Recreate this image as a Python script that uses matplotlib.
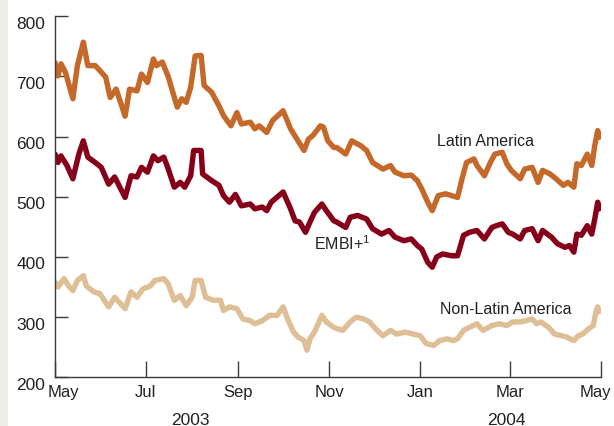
import numpy as np
import matplotlib
matplotlib.use("Agg")
import matplotlib.pyplot as plt
from matplotlib.transforms import ScaledTranslation, blended_transform_factory
from matplotlib.patches import Rectangle

plt.rcParams['font.family'] = ['Liberation Sans', 'DejaVu Sans']

START = np.datetime64('2003-05-01')

# Latin America (days since 2003-05-01, basis points)
la_days = [0, 2, 4, 7, 12, 15, 19, 22, 27, 30, 34, 37, 41, 47, 50, 55, 58, 62, 66, 68,
           72, 76, 82, 85, 88, 91, 94, 98, 100, 105, 110, 113, 118, 122, 125, 131, 134,
           137, 142, 146, 153, 158, 163, 167, 170, 173, 178, 180, 183, 187, 189, 195,
           199, 205, 209, 213, 220, 225, 228, 234, 239, 243, 246, 250, 253, 257, 262,
           266, 270, 273, 276, 281, 283, 288, 292, 295, 300, 303, 306, 312, 315, 320,
           324, 327, 332, 336, 341, 344, 348, 350, 353, 357, 360, 362, 364, 365]
la_vals = [723, 701, 721, 707, 663, 718, 757, 718, 718, 710, 699, 665, 679, 634, 679,
           676, 704, 690, 729, 718, 724, 699, 649, 663, 657, 682, 734, 735, 685, 674,
           651, 635, 618, 640, 621, 624, 613, 618, 607, 627, 643, 613, 593, 577, 596,
           602, 618, 616, 593, 582, 582, 571, 593, 585, 577, 557, 546, 552, 541, 535,
           536, 527, 513, 491, 477, 502, 505, 502, 499, 530, 557, 563, 552, 535, 557,
           571, 574, 555, 544, 530, 546, 549, 524, 544, 538, 530, 519, 524, 516, 555,
           552, 571, 552, 585, 610, 599]

# EMBI+
embi_days = [0, 2, 4, 8, 12, 16, 19, 22, 27, 31, 36, 40, 47, 51, 55, 58, 62, 66, 69, 73,
             76, 80, 84, 87, 91, 93, 98, 99, 105, 110, 113, 117, 121, 125, 131, 134, 139,
             142, 145, 153, 158, 161, 164, 168, 171, 174, 179, 182, 187, 189, 195, 198,
             203, 209, 213, 219, 224, 228, 234, 239, 243, 246, 250, 253, 256, 260, 266,
             270, 274, 278, 283, 288, 293, 296, 300, 304, 307, 312, 315, 320, 324, 327,
             333, 337, 342, 345, 348, 350, 353, 357, 360, 362, 364, 365]
embi_vals = [571, 557, 568, 552, 530, 571, 593, 566, 557, 549, 521, 533, 499, 535, 533,
             549, 541, 568, 560, 566, 546, 516, 524, 516, 535, 577, 577, 538, 527, 519,
             502, 491, 504, 485, 488, 480, 483, 477, 491, 508, 480, 460, 458, 441, 458,
             474, 488, 477, 460, 458, 449, 466, 469, 463, 447, 438, 444, 433, 427, 430,
             419, 413, 391, 383, 400, 405, 402, 402, 436, 441, 444, 430, 449, 452, 455,
             441, 438, 430, 444, 447, 427, 444, 433, 422, 416, 419, 408, 438, 436, 452,
             438, 463, 491, 480]

# Non-Latin America
nla_days = [0, 2, 6, 9, 12, 15, 19, 21, 26, 30, 36, 40, 47, 51, 55, 59, 64, 67, 73, 76,
            80, 84, 88, 92, 94, 98, 101, 106, 111, 113, 117, 122, 126, 131, 134, 139,
            144, 149, 153, 156, 160, 163, 167, 169, 171, 174, 179, 182, 187, 189, 193,
            198, 202, 207, 211, 216, 220, 225, 229, 235, 240, 245, 249, 254, 258, 263,
            267, 270, 274, 278, 283, 287, 293, 298, 303, 307, 312, 316, 320, 323, 326,
            331, 335, 340, 343, 348, 351, 354, 358, 361, 363, 364, 365]
nla_vals = [358, 350, 364, 352, 344, 361, 369, 352, 342, 339, 317, 333, 314, 342, 333,
            347, 352, 361, 364, 355, 328, 336, 319, 333, 361, 361, 333, 328, 328, 311,
            317, 314, 297, 294, 289, 294, 303, 303, 317, 297, 275, 267, 261, 245, 264,
            275, 303, 292, 283, 281, 278, 292, 300, 297, 292, 278, 269, 278, 272, 275,
            272, 269, 256, 253, 261, 264, 261, 264, 278, 283, 289, 278, 286, 289, 286,
            292, 292, 294, 297, 289, 292, 283, 272, 269, 267, 261, 269, 272, 281, 286,
            311, 317, 309]

month_ticks = ['2003-05-01', '2003-07-01', '2003-09-01', '2003-11-01',
               '2004-01-01', '2004-03-01', '2004-05-01']
month_labels = ['May', 'Jul', 'Sep', 'Nov', 'Jan', 'Mar', 'May']
year_labels = ['2003', '2004']
year_pos = ['2003-07-31', '2004-02-28']
y_ticks = [200, 300, 400, 500, 600, 700, 800]

c_la = '#C5692A'
c_embi = '#870019'
c_nla = '#DDBE95'
c_axis = '#3a3a3a'

fig = plt.figure(figsize=(6.14, 4.27), dpi=100)
fig.patches.append(Rectangle((0, 0), 8 / 614, 1, transform=fig.transFigure,
                             facecolor='#EDEDE4', edgecolor='none', zorder=0))
ax = fig.add_axes([55 / 614, 1 - 378.3 / 427, (600.7 - 55) / 614, (378.3 - 17.3) / 427])

def to_dates(days):
    return START + np.array(days, dtype='timedelta64[D]')

lw = 3.9
ax.plot(to_dates(nla_days), nla_vals, color=c_nla, lw=lw, solid_joinstyle='round', solid_capstyle='round')
ax.plot(to_dates(la_days), la_vals, color=c_la, lw=lw, solid_joinstyle='round', solid_capstyle='round')
ax.plot(to_dates(embi_days), embi_vals, color=c_embi, lw=lw, solid_joinstyle='round', solid_capstyle='round')

ax.set_xlim(np.datetime64('2003-05-01'), np.datetime64('2004-05-01'))
ax.set_ylim(200, 800)
ax.set_yticks(y_ticks)
ax.set_xticks([np.datetime64(d) for d in month_ticks])
ax.set_xticklabels(month_labels)

for s in ['top', 'right']:
    ax.spines[s].set_visible(False)
for s in ['left', 'bottom']:
    ax.spines[s].set_color(c_axis)
    ax.spines[s].set_linewidth(1.0)

ax.tick_params(axis='y', direction='in', length=9.5, width=1.0, color=c_axis,
               labelsize=12.5, labelcolor='#222222', pad=7)
ax.tick_params(axis='x', direction='in', length=11.5, width=1.0, color=c_axis,
               labelsize=12, labelcolor='#222222', pad=5)

for lab in ax.get_yticklabels():
    lab.set_transform(lab.get_transform() + ScaledTranslation(0, -5.5 / 100, fig.dpi_scale_trans))
xl = ax.get_xticklabels()
xl[0].set_transform(xl[0].get_transform() + ScaledTranslation(8 / 100, 0, fig.dpi_scale_trans))
xl[-1].set_transform(xl[-1].get_transform() + ScaledTranslation(-5 / 100, 0, fig.dpi_scale_trans))

trans = blended_transform_factory(ax.transData, ax.transAxes)
for lab, pos in zip(year_labels, year_pos):
    ax.text(np.datetime64(pos), -0.1294, lab, transform=trans, ha='center', va='baseline',
            fontsize=12.5, color='#222222', clip_on=False)

ax.text(np.datetime64('2004-02-14'), 593, 'Latin America', ha='center', va='center',
        fontsize=11.5, color='#222222')
ax.text(np.datetime64('2003-10-22'), 423, r'EMBI+$^{\mathregular{1}}$', ha='left', va='center',
        fontsize=11.5, color='#222222')
ax.text(np.datetime64('2004-01-14'), 315, 'Non-Latin America', ha='left', va='center',
        fontsize=11.5, color='#222222')

fig.savefig('out.png', dpi=100)
